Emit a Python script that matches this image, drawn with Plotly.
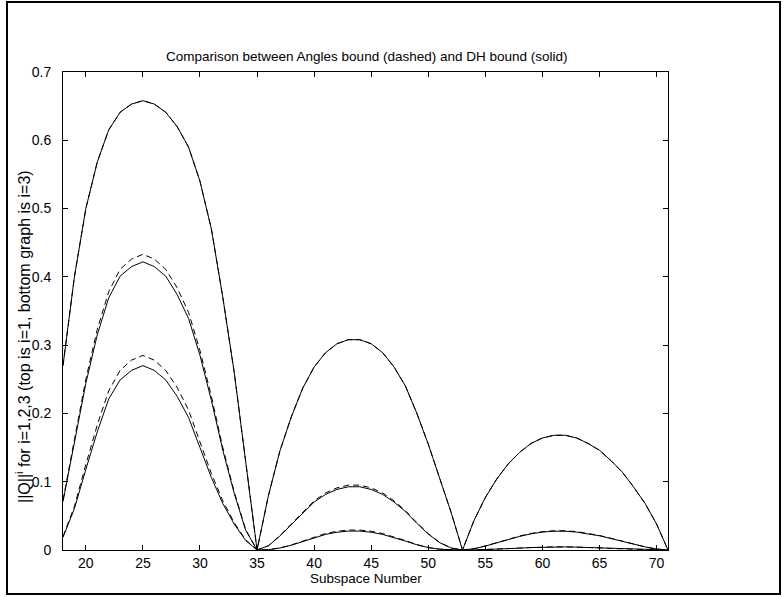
import plotly.graph_objects as go

subspace = list(range(18, 72))

q1 = [0.270, 0.400, 0.500, 0.568, 0.615, 0.641, 0.653, 0.658, 0.653, 0.641,
      0.620, 0.590, 0.540, 0.470, 0.370, 0.260, 0.130, 0.000,
      0.080, 0.145, 0.195, 0.237, 0.268, 0.289, 0.302, 0.308, 0.308, 0.302,
      0.289, 0.268, 0.240, 0.200, 0.155, 0.105, 0.055, 0.000,
      0.043, 0.077, 0.104, 0.126, 0.143, 0.156, 0.164, 0.168, 0.168, 0.164,
      0.156, 0.146, 0.131, 0.114, 0.092, 0.068, 0.038, 0.000]

angles_q2 = [0.073, 0.160, 0.250, 0.323, 0.378, 0.411, 0.426, 0.433, 0.426, 0.411,
             0.384, 0.348, 0.292, 0.225, 0.150, 0.085, 0.030, 0.000,
             0.0064, 0.021, 0.038, 0.056, 0.072, 0.0835, 0.091, 0.095, 0.095, 0.091,
             0.0835, 0.072, 0.0576, 0.040, 0.024, 0.011, 0.003, 0.000,
             0.0018, 0.0059, 0.0108, 0.0159, 0.0204, 0.0243, 0.0269, 0.0282, 0.0282, 0.0269,
             0.0243, 0.0213, 0.0172, 0.013, 0.0085, 0.0046, 0.0014, 0.000]

dh_q2 = [0.071, 0.156, 0.244, 0.315, 0.369, 0.401, 0.415, 0.422, 0.415, 0.401,
         0.374, 0.339, 0.285, 0.219, 0.146, 0.083, 0.029, 0.000,
         0.0062, 0.0205, 0.037, 0.0546, 0.0702, 0.0814, 0.0887, 0.0926, 0.0926, 0.0887,
         0.0814, 0.0702, 0.0562, 0.039, 0.0234, 0.0107, 0.0029, 0.000,
         0.0018, 0.0058, 0.0105, 0.0155, 0.0199, 0.0237, 0.0262, 0.0275, 0.0275, 0.0262,
         0.0237, 0.0208, 0.0168, 0.0127, 0.0083, 0.0045, 0.0014, 0.000]

angles_q3 = [0.0197, 0.064, 0.125, 0.183, 0.233, 0.263, 0.278, 0.285, 0.278, 0.263,
             0.238, 0.205, 0.158, 0.112, 0.072, 0.040, 0.015, 0.000,
             0.0005, 0.003, 0.0074, 0.0133, 0.0192, 0.0241, 0.0275, 0.0292, 0.0292, 0.0275,
             0.0241, 0.0192, 0.0138, 0.008, 0.0037, 0.0012, 0.0002, 0.000,
             0.0001, 0.0005, 0.0011, 0.002, 0.0029, 0.0038, 0.0044, 0.0047, 0.0047, 0.0044,
             0.0038, 0.0031, 0.0022, 0.0015, 0.0008, 0.0003, 0.0001, 0.000]

dh_q3 = [0.0187, 0.0606, 0.118, 0.173, 0.221, 0.249, 0.263, 0.270, 0.263, 0.249,
         0.225, 0.194, 0.150, 0.106, 0.068, 0.038, 0.014, 0.000,
         0.0005, 0.0028, 0.007, 0.0126, 0.0182, 0.0228, 0.026, 0.0277, 0.0277, 0.026,
         0.0228, 0.0182, 0.0131, 0.0076, 0.0035, 0.0011, 0.0002, 0.000,
         0.0001, 0.0005, 0.001, 0.0019, 0.0027, 0.0036, 0.0042, 0.0045, 0.0045, 0.0042,
         0.0036, 0.0029, 0.0021, 0.0014, 0.0008, 0.0003, 0.0001, 0.000]

x_ticks = [20, 25, 30, 35, 40, 45, 50, 55, 60, 65, 70]
y_ticks = [0, 0.1, 0.2, 0.3, 0.4, 0.5, 0.6, 0.7]
y_tick_labels = ["0", "0.1", "0.2", "0.3", "0.4", "0.5", "0.6", "0.7"]

FONT = "Liberation Sans, Arial, Helvetica, sans-serif"
FS = 14

fig = go.Figure()
dashed = dict(color="black", width=1, dash="6px,4px")
solid = dict(color="black", width=1)
for ys in (q1, angles_q2, angles_q3):
    fig.add_trace(go.Scatter(x=subspace, y=ys, mode="lines", line=dashed, showlegend=False))
for ys in (q1, dh_q2, dh_q3):
    fig.add_trace(go.Scatter(x=subspace, y=ys, mode="lines", line=solid, showlegend=False))

L, R, T, B = 63, 668, 72, 550
W, H = 784, 597

axis_common = dict(showgrid=False, zeroline=False, showline=True, linecolor="black",
                   linewidth=1, mirror="ticks", ticks="inside", ticklen=5,
                   tickcolor="black", tickwidth=1,
                   tickfont=dict(family=FONT, size=FS, color="black"))

fig.update_xaxes(range=[18, 71], tickvals=x_ticks, ticktext=[str(v) for v in x_ticks],
                 ticklabelstandoff=0, **axis_common)
fig.update_yaxes(range=[0, 0.7], tickvals=y_ticks, ticktext=y_tick_labels,
                 ticklabelstandoff=8, **axis_common)

def px(xp):
    return (xp - L) / (R - L)

def py(yp):
    return (B - yp) / (B - T)

fig.update_layout(
    width=W, height=H,
    margin=dict(l=L, r=W - R, t=T, b=H - B, pad=0),
    plot_bgcolor="white", paper_bgcolor="white",
    font=dict(family=FONT, size=FS, color="black"),
    annotations=[
        dict(text="Comparison between Angles bound (dashed) and DH bound (solid)",
             x=px(367), y=py(57), xref="paper", yref="paper", showarrow=False,
             xanchor="center", yanchor="middle", font=dict(family=FONT, size=13.5)),
        dict(text="Subspace Number", x=px(366), y=py(578), xref="paper", yref="paper",
             showarrow=False, xanchor="center", yanchor="middle", font=dict(family=FONT, size=13.5)),
        dict(text="||Q||<sup>i</sup> for i=1,2,3 (top is i=1, bottom graph is i=3)",
             x=px(23), y=py(337), xref="paper", yref="paper", showarrow=False,
             textangle=-90, xanchor="center", yanchor="middle", font=dict(family=FONT, size=16)),
    ],
    shapes=[
        dict(type="rect", xref="paper", yref="paper",
             x0=px(7), x1=px(780), y0=py(594), y1=py(2),
             line=dict(color="black", width=2), fillcolor="rgba(0,0,0,0)", layer="above"),
    ],
)

fig.write_html("out.html", config={"displayModeBar": False},
               post_script="document.body.style.margin='0px';document.body.style.overflow='hidden';")
